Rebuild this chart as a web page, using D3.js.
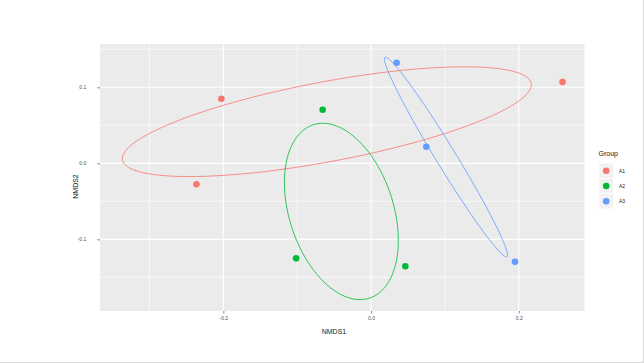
<!DOCTYPE html>
<html>
<head>
<meta charset="utf-8">
<script src="https://cdn.jsdelivr.net/npm/d3@7"></script>
<style>
  body { margin: 0; background: #fff; }
  svg { display: block; font-family: 'Liberation Sans', Arial, sans-serif; }
</style>
</head>
<body>
<div id="chart"></div>
<script>
// NMDS site scores
const groups = ['A1', 'A2', 'A3']
const sampleGroup = ['A1', 'A1', 'A1', 'A2', 'A2', 'A2', 'A3', 'A3', 'A3']
const nmds1 = [-0.2026, -0.2364, 0.2593, -0.0655, -0.1015, 0.0464, 0.0346, 0.0748, 0.1949]
const nmds2 = [0.085, -0.0276, 0.107, 0.0705, -0.125, -0.1355, 0.1324, 0.0218, -0.1295]
const xMajor = [-0.2, 0, 0.2]
const xMinor = [-0.3, -0.1, 0.1]
const yMajor = [-0.1, 0, 0.1]
const yMinor = [-0.15, -0.05, 0.05, 0.15]

const colors = { A1: '#F8766D', A2: '#00BA38', A3: '#619CFF' }

const width = 644
const height = 363
const panel = { left: 100, top: 44, right: 584.5, bottom: 311 }

const x = d3.scaleLinear().domain([-0.367, 0.289]).range([panel.left, panel.right])
const y = d3.scaleLinear().domain([-0.1943, 0.157]).range([panel.bottom, panel.top])

const points = nmds1.map((v, i) => ({ x: v, y: nmds2[i], group: sampleGroup[i] }))

// standard deviation ellipse (vegan style: center + chol(cov) * unit circle)
function covEllipse(pts, npoints = 100) {
  const n = pts.length
  const cx = d3.mean(pts, d => d.x)
  const cy = d3.mean(pts, d => d.y)
  let a = 0, b = 0, c = 0
  pts.forEach(d => {
    a += (d.x - cx) * (d.x - cx)
    b += (d.x - cx) * (d.y - cy)
    c += (d.y - cy) * (d.y - cy)
  })
  a /= n - 1; b /= n - 1; c /= n - 1
  const r11 = Math.sqrt(a)
  const r12 = b / r11
  const r22 = Math.sqrt(c - r12 * r12)
  return d3.range(npoints + 1).map(k => {
    const t = (k * 2 * Math.PI) / npoints
    return { x: cx + Math.cos(t) * r11, y: cy + Math.cos(t) * r12 + Math.sin(t) * r22 }
  })
}

const svg = d3.select('#chart').append('svg').attr('width', width).attr('height', height)

svg.append('rect')
  .attr('x', panel.left).attr('y', panel.top)
  .attr('width', panel.right - panel.left).attr('height', panel.bottom - panel.top)
  .attr('fill', '#EBEBEB')

const grid = svg.append('g')
xMinor.forEach(v => {
  grid.append('line').attr('x1', x(v)).attr('x2', x(v)).attr('y1', panel.top).attr('y2', panel.bottom)
    .attr('stroke', '#fff').attr('stroke-width', 0.6)
})
yMinor.forEach(v => {
  grid.append('line').attr('y1', y(v)).attr('y2', y(v)).attr('x1', panel.left).attr('x2', panel.right)
    .attr('stroke', '#fff').attr('stroke-width', 0.6)
})
xMajor.forEach(v => {
  grid.append('line').attr('x1', x(v)).attr('x2', x(v)).attr('y1', panel.top).attr('y2', panel.bottom)
    .attr('stroke', '#fff').attr('stroke-width', 1.1)
})
yMajor.forEach(v => {
  grid.append('line').attr('y1', y(v)).attr('y2', y(v)).attr('x1', panel.left).attr('x2', panel.right)
    .attr('stroke', '#fff').attr('stroke-width', 1.1)
})

// axes (plain hyphen for negatives, like R)
const fmt = v => d3.format('.1f')(v).replace('\u2212', '-')
const xAxis = svg.append('g')
  .attr('transform', `translate(0,${panel.bottom})`)
  .call(d3.axisBottom(x).tickValues(xMajor).tickFormat(fmt).tickSize(2.5).tickPadding(3))
const yAxis = svg.append('g')
  .attr('transform', `translate(${panel.left},0)`)
  .call(d3.axisLeft(y).tickValues(yMajor).tickFormat(fmt).tickSize(2.7).tickPadding(11))
;[xAxis, yAxis].forEach(ax => {
  ax.select('.domain').remove()
  ax.selectAll('.tick line').attr('stroke', '#333').attr('stroke-width', 0.6)
  ax.selectAll('.tick text').attr('fill', '#4D4D4D').attr('font-size', '5px')
    .attr('font-family', "'Liberation Sans', Arial, sans-serif")
})

// ellipses
const line = d3.line().x(d => x(d.x)).y(d => y(d.y))
groups.forEach(g => {
  const pts = points.filter(d => d.group === g)
  svg.append('path')
    .attr('d', line(covEllipse(pts)))
    .attr('fill', 'none')
    .attr('stroke', colors[g])
    .attr('stroke-width', 0.8)
})

// points
svg.append('g').selectAll('circle')
  .data(points)
  .join('circle')
  .attr('cx', d => x(d.x))
  .attr('cy', d => y(d.y))
  .attr('r', 3.3)
  .attr('fill', d => colors[d.group])

// axis titles
svg.append('text').attr('x', 334).attr('y', 334)
  .attr('text-anchor', 'middle').attr('font-size', '7px').attr('fill', '#1a1a1a')
  .text('NMDS1')
svg.append('text').attr('transform', 'translate(77.5,186.5) rotate(-90)')
  .attr('text-anchor', 'middle').attr('font-size', '7px').attr('fill', '#1a1a1a')
  .text('NMDS2')

// legend
const legend = svg.append('g')
legend.append('text').attr('x', 598.5).attr('y', 156)
  .attr('font-size', '7px').attr('fill', '#1a1a1a').text('Group')
groups.forEach((g, i) => {
  const cy = 170.7 + 15.3 * i
  legend.append('rect')
    .attr('x', 599).attr('y', cy - 7.65).attr('width', 14.5).attr('height', 15.3)
    .attr('fill', '#F2F2F2').attr('stroke', '#fff').attr('stroke-width', 0.7)
  legend.append('circle').attr('cx', 606.2).attr('cy', cy).attr('r', 3.3).attr('fill', colors[g])
  legend.append('text').attr('x', 619).attr('y', cy + 1.8)
    .attr('font-size', '5px').attr('fill', '#1a1a1a').text(g)
})

// thin frame at right and bottom edge
svg.append('line').attr('x1', 0).attr('x2', width).attr('y1', 362.5).attr('y2', 362.5)
  .attr('stroke', '#d9d9d9').attr('stroke-width', 1)
svg.append('line').attr('x1', 643.5).attr('x2', 643.5).attr('y1', 0).attr('y2', height)
  .attr('stroke', '#d9d9d9').attr('stroke-width', 1)
</script>
</body>
</html>
